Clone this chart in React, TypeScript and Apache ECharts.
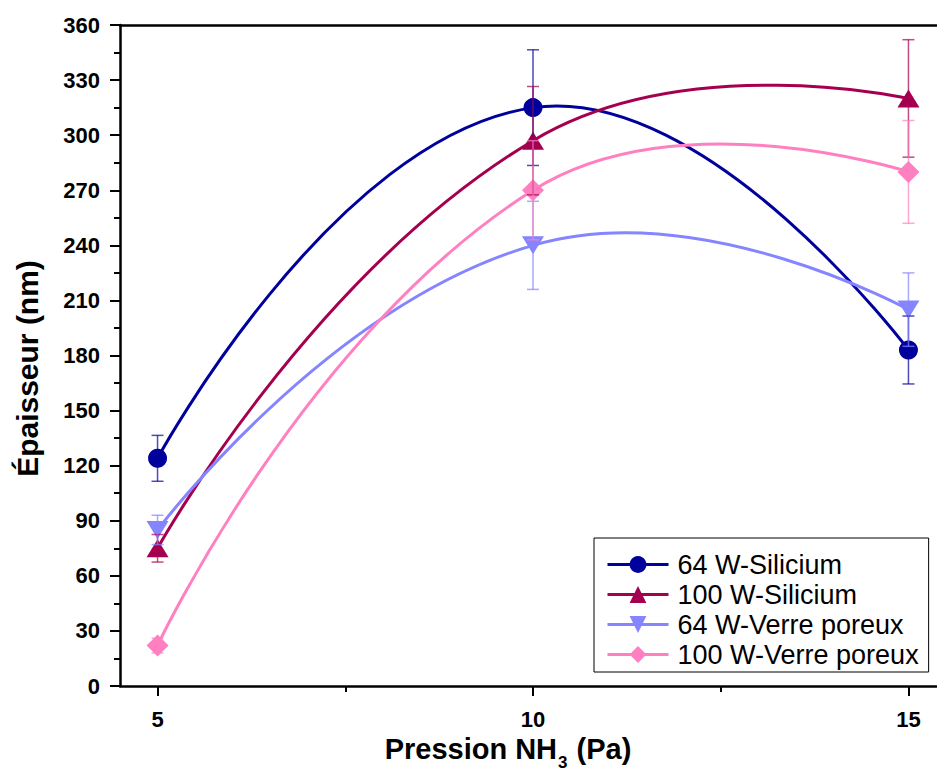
import React, { useEffect, useRef } from 'react';
import * as echarts from 'echarts';

const pressures = [5, 10, 15];
const seriesNames = ['64 W-Silicium', '100 W-Silicium', '64 W-Verre poreux', '100 W-Verre poreux'];
const si64 = [124, 315, 183];
const si64Err = [12.5, 31.5, 18.5];
const si100 = [75, 297, 320];
const si100Err = [7.5, 29.5, 32];
const vp64 = [85, 240, 205];
const vp64Err = [8, 24, 20];
const vp100 = [22, 270, 280];
const vp100Err = [4, 27, 28];
const xTicks = [5, 10, 15];
const xMinorTicks = [7.5, 12.5];

const FONT = 'Arial, "Liberation Sans", sans-serif';
const colors = ['#00009C', '#A5004F', '#8585FF', '#FF80C0'];
const symbols = ['circle', 'triangle', 'triangle', 'diamond'];
const rotates = [0, 0, 180, 0];
const sizes: any[] = [19, [22, 18], [22, 18], 22];
const SMOOTH = 0.5;

export default function App() {
  const ref = useRef<HTMLDivElement>(null);
  useEffect(() => {
    if (!ref.current) return;
    document.documentElement.style.overflow = 'hidden';
    const chart = echarts.init(ref.current, null, { renderer: 'svg' });
    const values = [si64, si100, vp64, vp100];
    const errs = [si64Err, si100Err, vp64Err, vp100Err];

    // Markers (line itself transparent; the spline is drawn by the custom series below)
    const markerSeries = values.map((vals, k) => ({
      type: 'line',
      name: seriesNames[k],
      data: pressures.map((x, i) => [x, vals[i]]),
      symbol: symbols[k],
      symbolSize: sizes[k],
      symbolRotate: rotates[k],
      showAllSymbol: true,
      lineStyle: { color: colors[k], width: 3, opacity: 0 },
      itemStyle: { color: colors[k], opacity: 1 },
      xAxisIndex: 0,
      yAxisIndex: 0,
      z: 3,
      silent: true,
    }));

    // Spline through the points, drawn in pixel space from api.coord
    const curveSeries = values.map((vals, k) => ({
      type: 'custom',
      data: pressures.map((x, i) => [x, vals[i]]),
      encode: { x: 0, y: 1 },
      xAxisIndex: 0,
      yAxisIndex: 0,
      z: 2,
      silent: true,
      renderItem: (params: any, api: any) => {
        const i = params.dataIndex;
        const n = pressures.length;
        if (i >= n - 1) return { type: 'group', children: [] };
        const pts = pressures.map((x, j) => api.coord([x, vals[j]]));
        const cpOut: number[][] = [];
        const cpIn: number[][] = [];
        for (let j = 0; j < n; j++) {
          if (j === 0 || j === n - 1) {
            cpOut[j] = pts[j];
            cpIn[j] = pts[j];
            continue;
          }
          const p = pts[j], pr = pts[j - 1], nx = pts[j + 1];
          const vx = nx[0] - pr[0], vy = nx[1] - pr[1];
          const lp = Math.hypot(p[0] - pr[0], p[1] - pr[1]);
          const ln = Math.hypot(nx[0] - p[0], nx[1] - p[1]);
          const r = ln / (lp + ln);
          cpOut[j] = [p[0] + vx * SMOOTH * r, p[1] + vy * SMOOTH * r];
          cpIn[j] = [p[0] - vx * SMOOTH * (1 - r), p[1] - vy * SMOOTH * (1 - r)];
        }
        const a = pts[i], b = pts[i + 1];
        return {
          type: 'bezierCurve',
          shape: {
            x1: a[0], y1: a[1], x2: b[0], y2: b[1],
            cpx1: cpOut[i][0], cpy1: cpOut[i][1], cpx2: cpIn[i + 1][0], cpy2: cpIn[i + 1][1],
          },
          style: { stroke: colors[k], lineWidth: 3, fill: 'none' },
        };
      },
    }));

    const errSeries = values.map((vals, k) => ({
      type: 'custom',
      data: pressures.map((x, i) => [x, vals[i], errs[k][i]]),
      encode: { x: 0, y: 1 },
      xAxisIndex: 0,
      yAxisIndex: 0,
      z: 4,
      silent: true,
      renderItem: (params: any, api: any) => {
        const x = api.value(0);
        const y = api.value(1);
        const e = api.value(2);
        const t = api.coord([x, y + e]);
        const b = api.coord([x, y - e]);
        const w = 6;
        const style = { stroke: colors[k], lineWidth: 1.5, opacity: 0.7 };
        return {
          type: 'group',
          children: [
            { type: 'line', shape: { x1: t[0], y1: t[1], x2: b[0], y2: b[1] }, style },
            { type: 'line', shape: { x1: t[0] - w, y1: t[1], x2: t[0] + w, y2: t[1] }, style },
            { type: 'line', shape: { x1: b[0] - w, y1: b[1], x2: b[0] + w, y2: b[1] }, style },
          ],
        };
      },
    }));

    const axisLine = { show: true, onZero: false, lineStyle: { color: '#000', width: 2.5 } };
    const tickLabel = { fontSize: 22, fontWeight: 'bold', color: '#000', fontFamily: FONT };
    chart.setOption({
      animation: false,
      backgroundColor: '#fff',
      grid: { left: 120, top: 25, width: 826, height: 661, containLabel: false, outerBoundsMode: 'none' },
      legend: {
        data: seriesNames,
        orient: 'vertical',
        left: 594,
        top: 538,
        padding: [13, 10, 4, 12],
        itemGap: 3,
        itemWidth: 61,
        itemHeight: 21,
        borderColor: '#000',
        borderWidth: 1,
        selectedMode: false,
        lineStyle: { opacity: 1, width: 3 },
        textStyle: { fontSize: 27, color: '#000', fontFamily: FONT, padding: [0, 0, 0, 4] },
      },
      xAxis: [
        {
          type: 'value', min: 4.5, max: 15.5, position: 'bottom',
          axisLine,
          axisTick: { show: true, customValues: xTicks, length: 10, lineStyle: { color: '#000', width: 2 } },
          axisLabel: { ...tickLabel, customValues: xTicks, margin: 22 },
          splitLine: { show: false },
          name: '{a|Pression NH}{sub|3}{a| (Pa)}',
          nameLocation: 'middle',
          nameGap: 41,
          nameTextStyle: {
            fontSize: 29, fontWeight: 'bold', color: '#000', fontFamily: FONT, padding: [0, 50, 0, 0],
            rich: {
              a: { fontSize: 29, fontWeight: 'bold', color: '#000', fontFamily: FONT },
              sub: { fontSize: 17, fontWeight: 'bold', color: '#000', fontFamily: FONT, padding: [26, 1, 0, 1] },
            },
          },
        },
        {
          type: 'value', min: 4.5, max: 15.5, position: 'bottom',
          axisLine: { show: false },
          axisTick: { show: true, customValues: xMinorTicks, length: 6, lineStyle: { color: '#000', width: 2 } },
          axisLabel: { show: false },
          splitLine: { show: false },
        },
        {
          type: 'value', min: 4.5, max: 15.5, position: 'top',
          axisLine,
          axisTick: { show: false },
          axisLabel: { show: false },
          splitLine: { show: false },
        },
      ],
      yAxis: [
        {
          type: 'value', min: 0, max: 360, interval: 30, position: 'left',
          axisLine,
          axisTick: { show: true, length: 10, lineStyle: { color: '#000', width: 2 } },
          minorTick: { show: true, splitNumber: 2, length: 6, lineStyle: { color: '#000', width: 2 } },
          axisLabel: { ...tickLabel, margin: 20 },
          splitLine: { show: false },
          minorSplitLine: { show: false },
          name: 'Épaisseur (nm)',
          nameLocation: 'middle',
          nameRotate: 90,
          nameGap: 78,
          nameTextStyle: { fontSize: 30, fontWeight: 'bold', color: '#000', fontFamily: FONT, padding: [0, 26, 0, 0] },
        },
        {
          type: 'value', min: 0, max: 360, position: 'right',
          axisLine,
          axisTick: { show: false },
          axisLabel: { show: false },
          splitLine: { show: false },
        },
      ],
      series: [...curveSeries, ...markerSeries, ...errSeries],
    });
    return () => chart.dispose();
  }, []);
  return <div ref={ref} style={{ position: 'fixed', left: 0, top: 0, width: 960, height: 773, background: '#fff' }} />;
}
